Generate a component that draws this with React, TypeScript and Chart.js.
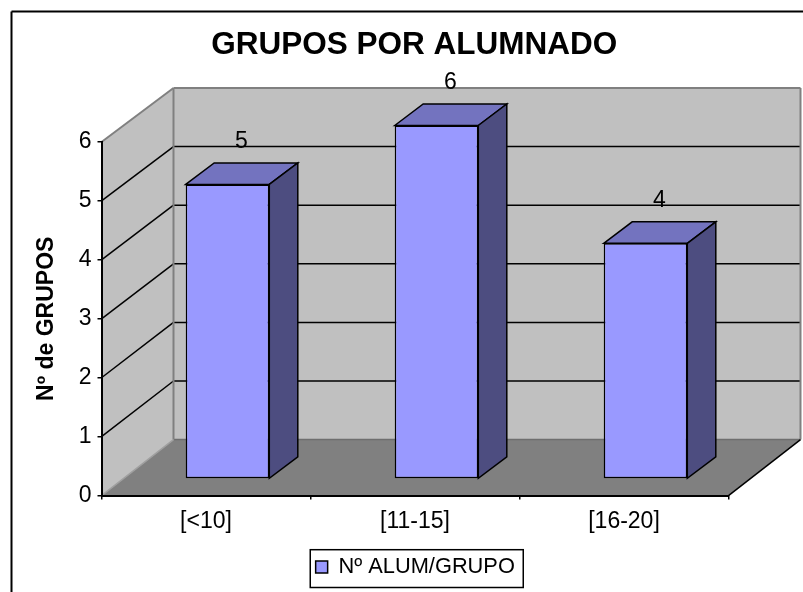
import React, { useEffect, useRef } from "react";
import { Chart, registerables } from "chart.js";

Chart.register(...registerables);

const categories = ["[<10]", "[11-15]", "[16-20]"];
const seriesName = "Nº ALUM/GRUPO";
const seriesValues = [5, 6, 4];
const chartTitle = "GRUPOS POR ALUMNADO";
const yAxisTitle = "Nº de GRUPOS";

const FONT = "'Liberation Sans', Arial, sans-serif";
const WALL_DX = 72;
const WALL_DY = -56;
const WALL_SCALE = 0.9943;
const BAR_OFFSET_X = 21.5;
const BAR_OFFSET_Y = -16.5;
const BAR_DX = 28.5;
const BAR_DY = -21.5;

function poly(ctx: CanvasRenderingContext2D, pts: number[][], fill?: string, stroke?: string, lw = 1.5) {
  ctx.beginPath();
  pts.forEach((p, i) => (i ? ctx.lineTo(p[0], p[1]) : ctx.moveTo(p[0], p[1])));
  ctx.closePath();
  if (fill) {
    ctx.fillStyle = fill;
    ctx.fill();
  }
  if (stroke) {
    ctx.strokeStyle = stroke;
    ctx.lineWidth = lw;
    ctx.stroke();
  }
}

function line(ctx: CanvasRenderingContext2D, x1: number, y1: number, x2: number, y2: number, color: string, lw: number) {
  ctx.beginPath();
  ctx.moveTo(x1, y1);
  ctx.lineTo(x2, y2);
  ctx.strokeStyle = color;
  ctx.lineWidth = lw;
  ctx.stroke();
}

const scene3d = {
  id: "scene3d",
  afterLayout(chart: any) {
    chart.titleBlock.left += 35;
    chart.titleBlock.right += 35;
    chart.legend.left += 36;
    chart.legend.right += 36;
  },
  beforeDraw(chart: any) {
    const { ctx, scales, chartArea, legend } = chart;
    const { left, right, bottom } = chartArea;
    const y = scales.y;
    const top = y.getPixelForValue(6);
    const backY = (py: number) => bottom + WALL_DY + (py - bottom) * WALL_SCALE;
    const backL = left + WALL_DX;
    const backR = right + WALL_DX;
    ctx.save();

    // chart frame
    line(ctx, 11.5, 592, 11.5, 11.5, "#000", 2);
    line(ctx, 11.5, 11.5, 803, 11.5, "#000", 2);

    // walls
    poly(ctx, [[backL, backY(top)], [backR, backY(top)], [backR, backY(bottom)], [backL, backY(bottom)]], "#C0C0C0");
    poly(ctx, [[left, top], [backL, backY(top)], [backL, backY(bottom)], [left, bottom]], "#C0C0C0");

    // gridlines
    y.ticks.forEach((t: any) => {
      if (t.value === 0 || t.value === 6) return;
      const py = y.getPixelForValue(t.value);
      line(ctx, left, py, backL, backY(py), "#000", 1.5);
      line(ctx, backL, backY(py), backR, backY(py), "#000", 1.5);
    });

    // floor
    poly(ctx, [[left, bottom], [right, bottom], [backR, backY(bottom)], [backL, backY(bottom)]], "#808080");
    line(ctx, backL, backY(bottom), backR, backY(bottom), "#6E6E6E", 1.5);

    // wall edges
    line(ctx, left, top, backL, backY(top), "#808080", 2);
    line(ctx, backL, backY(top), backR, backY(top), "#808080", 2);
    line(ctx, backL, backY(top), backL, backY(bottom), "#808080", 2);
    line(ctx, backR, backY(top), backR, backY(bottom), "#808080", 2);
    line(ctx, left, bottom, backL, backY(bottom), "#A0A0A0", 1.5);
    line(ctx, right, bottom, backR, backY(bottom), "#000", 1.5);

    // legend frame
    const cx = (legend.left + legend.right) / 2 + 1.5;
    ctx.strokeStyle = "#000";
    ctx.lineWidth = 1.5;
    ctx.strokeRect(cx - 106.5, legend.top + 0.5, 213, legend.bottom - legend.top - 1);
    ctx.restore();
  },
  beforeDatasetsDraw(chart: any) {
    chart.ctx.save();
    chart.ctx.translate(BAR_OFFSET_X, BAR_OFFSET_Y);
  },
  afterDatasetsDraw(chart: any) {
    const { ctx } = chart;
    const bars = chart.getDatasetMeta(0).data;
    bars.forEach((bar: any, i: number) => {
      const { x, y, base, width } = bar.getProps(["x", "y", "base", "width"], true);
      const l = x - width / 2;
      const r = x + width / 2;
      poly(ctx, [[l, y], [l + BAR_DX, y + BAR_DY], [r + BAR_DX, y + BAR_DY], [r, y]], "#7373BF", "#000");
      poly(ctx, [[r, y], [r + BAR_DX, y + BAR_DY], [r + BAR_DX, base + BAR_DY], [r, base]], "#4D4D80", "#000");
      ctx.fillStyle = "#000";
      ctx.font = `23px ${FONT}`;
      ctx.textAlign = "center";
      ctx.textBaseline = "middle";
      ctx.fillText(String(seriesValues[i]), x + 14, y - 43);
    });
    ctx.restore();
  },
};

export default function App() {
  const ref = useRef<HTMLCanvasElement>(null);
  useEffect(() => {
    const chart = new Chart(ref.current!, {
      type: "bar",
      plugins: [scene3d],
      data: {
        labels: categories,
        datasets: [
          {
            label: seriesName,
            data: seriesValues,
            backgroundColor: "#9999FF",
            borderColor: "#000",
            borderWidth: 1.5,
            borderSkipped: false,
            barPercentage: 0.4,
            categoryPercentage: 1,
            clip: false,
          },
        ],
      },
      options: {
        responsive: false,
        animation: false,
        layout: { padding: { left: 30, right: 74.5, top: 0, bottom: 4 } },
        plugins: {
          tooltip: { enabled: false },
          title: {
            display: true,
            text: chartTitle,
            color: "#000",
            font: { family: FONT, size: 31.5, weight: "bold" },
            padding: { top: 26, bottom: 78.2 },
          },
          legend: {
            display: true,
            position: "bottom",
            labels: {
              color: "#000",
              boxWidth: 12,
              boxHeight: 12,
              padding: 7,
              font: { family: FONT, size: 21.8 },
            },
          },
        },
        scales: {
          x: {
            afterFit: (s: any) => {
              s.height = 53.6;
            },
            grid: { drawOnChartArea: false, drawTicks: true, tickLength: 4, color: "#000", lineWidth: 1.5 },
            border: { display: true, color: "#000", width: 2 },
            ticks: { color: "#000", padding: 8, maxRotation: 0, font: { family: FONT, size: 23 } },
          },
          y: {
            min: 0,
            max: 6,
            afterFit: (s: any) => {
              s.width = 71.5;
            },
            grid: { drawOnChartArea: false, drawTicks: true, tickLength: 4, color: "#000", lineWidth: 1.5 },
            border: { display: true, color: "#000", width: 2 },
            ticks: { stepSize: 1, color: "#000", padding: 6, font: { family: FONT, size: 23 } },
            title: {
              display: true,
              text: yAxisTitle,
              color: "#000",
              padding: { top: 3, bottom: 0 },
              font: { family: FONT, size: 23, weight: "bold" },
            },
          },
        },
      },
    } as any);
    return () => chart.destroy();
  }, []);
  return (
    <canvas
      ref={ref}
      width={803}
      height={592}
      style={{ position: "fixed", left: 0, top: 0, display: "block", width: 803, height: 592 }}
    />
  );
}
